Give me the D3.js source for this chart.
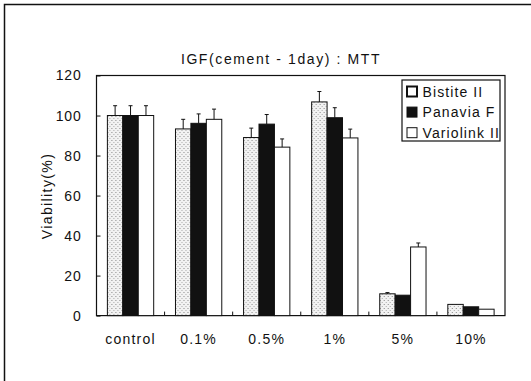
<!DOCTYPE html>
<html>
<head>
<meta charset="utf-8">
<script src="https://cdn.jsdelivr.net/npm/d3@7"></script>
<style>
  body { margin: 0; background: #fff; }
  text { font-family: "Liberation Sans", Arial, sans-serif; fill: #111; }
</style>
</head>
<body>
<div id="chart"></div>
<script>
const categories = ["control", "0.1%", "0.5%", "1%", "5%", "10%"];
const seriesNames = ["Bistite II", "Panavia F", "Variolink II"];
const bistite = [100, 93.3, 89, 106.8, 10.9, 5.6];
const panavia = [100, 96.1, 95.7, 98.9, 10.2, 4.4];
const variolink = [100, 98.1, 84.2, 88.8, 34.3, 3.2];
const bistiteErr = [4.9, 4.8, 4.7, 5.2, 0.6, 0];
const panaviaErr = [4.9, 4.7, 4.8, 5.0, 0, 0];
const variolinkErr = [4.9, 5.1, 4.1, 4.4, 2.0, 0];
const yTicks = [0, 20, 40, 60, 80, 100, 120];

const width = 531, height = 381;
const margin = { left: 96.5, right: 26, top: 75.5, bottom: 65.4 };

const svg = d3.select('#chart').append('svg')
  .attr('width', width)
  .attr('height', height);

// outer frame (top & left edge of the scanned figure)
svg.append('path')
  .attr('d', 'M4.5,' + height + 'V4.5H' + width)
  .attr('fill', 'none')
  .attr('stroke', '#111')
  .attr('stroke-width', 1.5);

const defs = svg.append('defs');
const pat = defs.append('pattern')
  .attr('id', 'dots')
  .attr('patternUnits', 'userSpaceOnUse')
  .attr('width', 4).attr('height', 4);
pat.append('rect').attr('width', 4).attr('height', 4).attr('fill', '#f2f2f2');
pat.append('rect').attr('x', 0).attr('y', 0).attr('width', 1).attr('height', 1).attr('fill', '#888');
pat.append('rect').attr('x', 2).attr('y', 2).attr('width', 1).attr('height', 1).attr('fill', '#aaa');

const fills = ['url(#dots)', '#111', '#fff'];

const x0 = d3.scaleBand()
  .domain(categories)
  .range([margin.left, width - margin.right])
  .paddingInner(0.32)
  .paddingOuter(0.16);

const x1 = d3.scaleBand()
  .domain(seriesNames)
  .range([0, x0.bandwidth()]);

const y = d3.scaleLinear()
  .domain([0, 120])
  .range([height - margin.bottom, margin.top]);

const rows = categories.map((c, i) => ({
  cat: c,
  vals: [
    { s: seriesNames[0], v: bistite[i], e: bistiteErr[i], f: fills[0] },
    { s: seriesNames[1], v: panavia[i], e: panaviaErr[i], f: fills[1] },
    { s: seriesNames[2], v: variolink[i], e: variolinkErr[i], f: fills[2] }
  ]
}));

// plot frame
svg.append('rect')
  .attr('x', margin.left)
  .attr('y', margin.top)
  .attr('width', width - margin.left - margin.right)
  .attr('height', height - margin.top - margin.bottom)
  .attr('fill', 'none')
  .attr('stroke', '#111')
  .attr('stroke-width', 1.2);

// y axis
const yAxis = svg.append('g')
  .attr('transform', 'translate(' + margin.left + ',0)')
  .call(d3.axisLeft(y).tickValues(yTicks).tickSize(-4).tickPadding(15));
yAxis.select('.domain').remove();
yAxis.selectAll('text')
  .style('font-size', '14px')
  .style('letter-spacing', '0.8px');
yAxis.selectAll('line').attr('stroke', '#111');

// x axis: ticks at group boundaries
const boundaries = categories.slice(1).map(c => x0(c) - x0.step() * x0.paddingInner() / 2);
svg.append('g')
  .selectAll('line')
  .data(boundaries)
  .enter()
  .append('line')
  .attr('x1', d => d).attr('x2', d => d)
  .attr('y1', y(0)).attr('y2', y(0) - 4)
  .attr('stroke', '#111');

svg.append('g')
  .selectAll('text')
  .data(categories)
  .enter()
  .append('text')
  .attr('x', d => x0(d) + x0.bandwidth() / 2)
  .attr('y', 344)
  .attr('text-anchor', 'middle')
  .style('font-size', '14px')
  .style('letter-spacing', '1.2px')
  .text(d => d);

// bars
const groups = svg.append('g')
  .selectAll('g')
  .data(rows)
  .enter()
  .append('g')
  .attr('transform', d => 'translate(' + x0(d.cat) + ',0)');

groups.selectAll('rect')
  .data(d => d.vals)
  .enter()
  .append('rect')
  .attr('x', d => x1(d.s))
  .attr('y', d => y(d.v))
  .attr('width', x1.bandwidth())
  .attr('height', d => y(0) - y(d.v))
  .attr('fill', d => d.f)
  .attr('stroke', '#111')
  .attr('stroke-width', 1);

// error bars (upper half only)
const errs = groups.selectAll('g.err')
  .data(d => d.vals.filter(v => v.e > 0))
  .enter()
  .append('g')
  .attr('class', 'err');
errs.append('line')
  .attr('x1', d => x1(d.s) + x1.bandwidth() / 2)
  .attr('x2', d => x1(d.s) + x1.bandwidth() / 2)
  .attr('y1', d => y(d.v))
  .attr('y2', d => y(d.v + d.e))
  .attr('stroke', '#111');
errs.append('line')
  .attr('x1', d => x1(d.s) + x1.bandwidth() / 2 - 2)
  .attr('x2', d => x1(d.s) + x1.bandwidth() / 2 + 2)
  .attr('y1', d => y(d.v + d.e))
  .attr('y2', d => y(d.v + d.e))
  .attr('stroke', '#111');

// title
svg.append('text')
  .attr('x', 281)
  .attr('y', 64)
  .attr('text-anchor', 'middle')
  .style('font-size', '14px')
  .style('letter-spacing', '1.6px')
  .text('IGF(cement - 1day) : MTT');

// y label
svg.append('text')
  .attr('transform', 'translate(52,196) rotate(-90)')
  .attr('text-anchor', 'middle')
  .style('font-size', '14px')
  .style('letter-spacing', '1.4px')
  .text('Viability(%)');

// legend
const legend = svg.append('g').attr('transform', 'translate(402,80)');
legend.append('rect')
  .attr('width', 98).attr('height', 61)
  .attr('fill', '#fff')
  .attr('stroke', '#111')
  .attr('stroke-width', 1.2);
const legendFills = ['#fff', '#111', '#fff'];
const legendStroke = [2, 1, 1];
const items = legend.selectAll('g.item')
  .data(seriesNames)
  .enter()
  .append('g')
  .attr('class', 'item')
  .attr('transform', (d, i) => 'translate(0,' + (6 + i * 20.6) + ')');
items.append('rect')
  .attr('x', 5).attr('y', 0.5)
  .attr('width', 10).attr('height', 10)
  .attr('fill', (d, i) => legendFills[i])
  .attr('stroke', '#111')
  .attr('stroke-width', (d, i) => legendStroke[i]);
items.append('text')
  .attr('x', 20.5)
  .attr('y', 10.5)
  .style('font-size', '14px')
  .style('letter-spacing', '1.1px')
  .text(d => d);
</script>
</body>
</html>
